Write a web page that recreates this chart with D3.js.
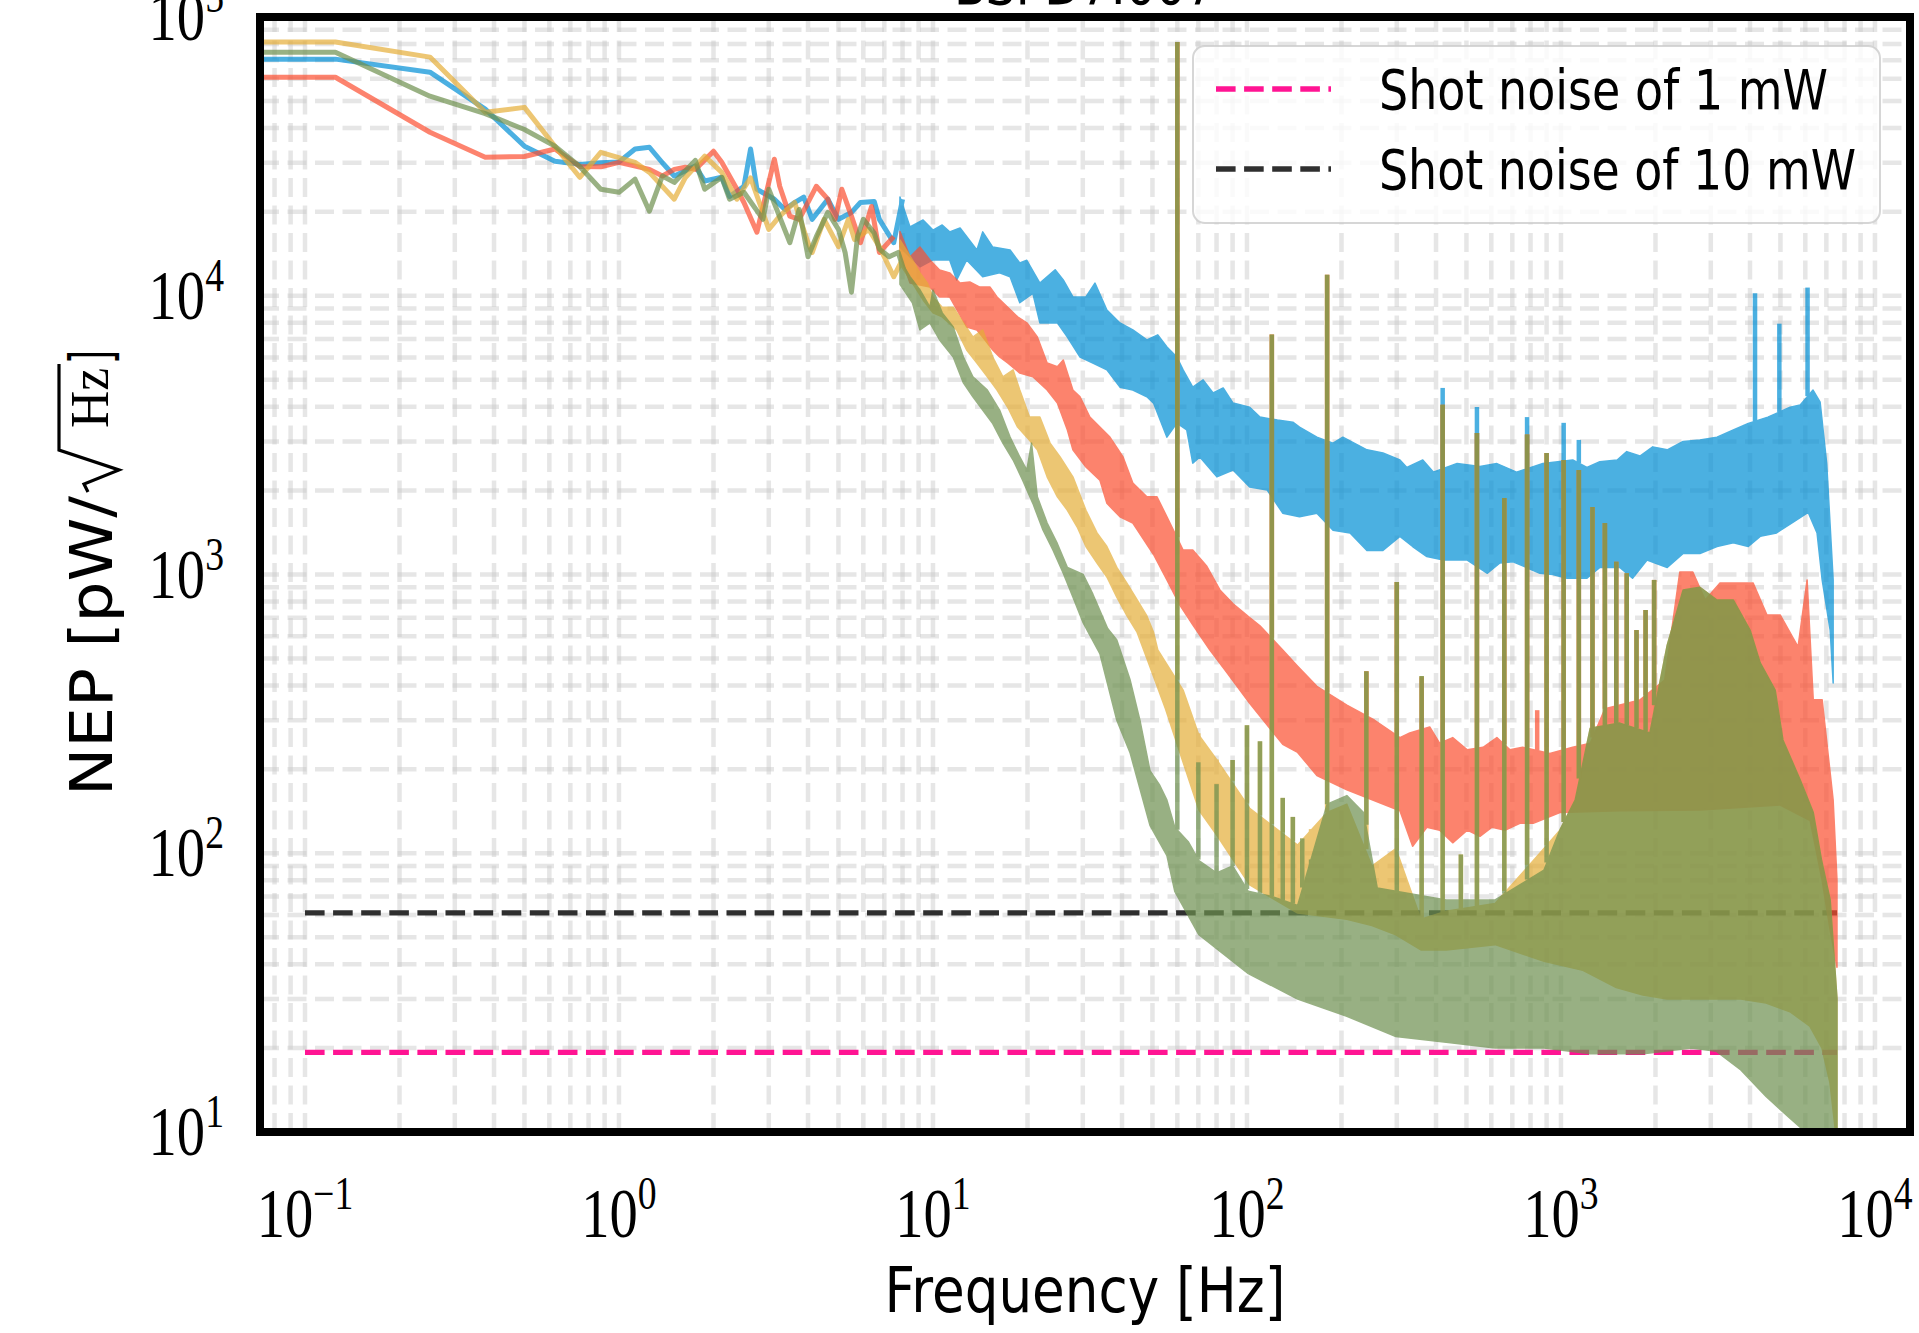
<!DOCTYPE html>
<html>
<head>
<meta charset="utf-8">
<script src="https://cdn.jsdelivr.net/npm/d3@7"></script>
<style>
  body { margin: 0; background: #fff; }
  svg { display: block; }
</style>
</head>
<body>
<div id="chart"></div>
<script>
// ---- values (frequency in Hz, NEP in pW/sqrt(Hz)) ----

// low-frequency part, drawn as a line
var blueLineF = [0.072, 0.125, 0.25, 0.375, 0.5, 0.625, 0.75, 0.875, 1.0, 1.125, 1.25, 1.375, 1.5, 1.75, 1.875, 2.125, 2.25, 2.5, 2.625, 2.75, 3.125, 3.375, 3.625, 3.875, 4.125, 4.625, 5.0, 5.5, 5.875, 6.5, 6.75, 7.5, 8.0]
var blueLineV = [70600, 70600, 63400, 46700, 34400, 30400, 29600, 30000, 30200, 33600, 34100, 30000, 26900, 29200, 25800, 26600, 22700, 24700, 33600, 24100, 22200, 20400, 21600, 22600, 18800, 22200, 18800, 19900, 21600, 21800, 18800, 15500, 22200]

var redLineF = [0.072, 0.125, 0.25, 0.375, 0.5, 0.625, 0.75, 0.875, 1.0, 1.25, 1.375, 1.5, 1.625, 1.75, 2.0, 2.125, 2.375, 2.5, 2.75, 3.125, 3.25, 3.5, 3.75, 4.25, 4.625, 4.875, 5.125, 5.5, 5.875, 6.375, 6.75, 7.5]
var redLineV = [60800, 60800, 38600, 31400, 31600, 33600, 29100, 29000, 30100, 28400, 26900, 28400, 28900, 28400, 33000, 30100, 24100, 21600, 16900, 30900, 24700, 19300, 18800, 24700, 22200, 18800, 24100, 19300, 15500, 20900, 14300, 16300]

var yellowLineF = [0.072, 0.125, 0.25, 0.375, 0.5, 0.625, 0.75, 0.875, 1.125, 1.25, 1.5, 1.625, 1.875, 2.125, 2.375, 2.625, 3.0, 3.25, 3.625, 4.0, 4.125, 4.5, 5.0, 5.375, 5.625, 6.25, 6.75, 7.5, 8.0]
var yellowLineV = [81300, 81300, 71800, 45500, 47400, 34400, 26600, 32700, 30100, 27700, 22200, 26500, 31700, 27700, 22200, 26500, 17300, 19300, 21600, 15500, 14300, 18800, 15000, 18800, 15900, 17300, 15000, 11700, 13500]

var greenLineF = [0.072, 0.125, 0.25, 0.375, 0.5, 0.625, 0.75, 0.875, 1.0, 1.125, 1.25, 1.375, 1.5, 1.75, 1.875, 2.125, 2.25, 2.5, 2.875, 3.0, 3.5, 3.75, 4.0, 4.25, 4.625, 5.0, 5.25, 5.5, 5.75, 6.0, 6.5, 6.75, 7.25, 7.75, 8.125]
var greenLineV = [74800, 74800, 52000, 45000, 39500, 34400, 29100, 24100, 23500, 26200, 20100, 26900, 25500, 30600, 24100, 26600, 22200, 23500, 18800, 24100, 15500, 20400, 13800, 16300, 19900, 17300, 14300, 10300, 16300, 18800, 16800, 14700, 13800, 14300, 12100]

// dense noisy part, drawn as a band: upper edge and lower edge
var blueHiF = [7.85, 8.45, 9.3, 10.0, 10.7, 11.3, 12.2, 13.8, 14.4, 15.5, 17.6, 18.9, 19.9, 21.9, 24.5, 26.0, 27.9, 30.7, 32.8, 35.8, 39.4, 43.3, 48.0, 52.0, 55.6, 59.8, 62.6, 67.2, 72.5, 78.0, 84.0, 90.3, 102, 110, 125, 140, 147, 167, 188, 202, 241, 271, 307, 323, 363, 392, 467, 552, 625, 722, 876, 1090, 1210, 1330, 1510, 1620, 1785, 1960, 2180, 2450, 2770, 3140, 3540, 3950, 4560, 5370, 5780, 6350, 6690, 7020, 7360]
var blueHiV = [22600, 17650, 18700, 17200, 17950, 16950, 17500, 14600, 16950, 14950, 14600, 13100, 13400, 11100, 12400, 11400, 9900, 9900, 11100, 8890, 7990, 7540, 6940, 7240, 6550, 6030, 5420, 4700, 4990, 4480, 4670, 4120, 3980, 3670, 3580, 3520, 3380, 3110, 2960, 3110, 2800, 2730, 2575, 2420, 2575, 2330, 2500, 2440, 2500, 2330, 2500, 2575, 2420, 2540, 2575, 2760, 2660, 2870, 2800, 3000, 3040, 3110, 3300, 3480, 3670, 3980, 4060, 4590, 4150, 2500, 956]
var blueLoF = [7.85, 8.45, 9.09, 10.0, 11.3, 11.9, 12.8, 14.4, 16.3, 17.6, 18.9, 20.8, 21.9, 24.9, 26.8, 29.4, 32.3, 35.8, 39.4, 43.3, 48.0, 50.4, 55.6, 59.8, 64.3, 67.2, 70.8, 80.2, 90.3, 102, 116, 130, 147, 167, 188, 213, 241, 271, 307, 337, 374, 422, 503, 583, 639, 704, 776, 857, 941, 1045, 1210, 1330, 1540, 1690, 1880, 2180, 2450, 2770, 3140, 3540, 3950, 4310, 4860, 5490, 6130, 6540, 6790, 7200, 7360]
var blueLoV = [14950, 13780, 12700, 13440, 13440, 11390, 13440, 11700, 12080, 11700, 9440, 10200, 7990, 7990, 7110, 6030, 5740, 5420, 4700, 4590, 4340, 4120, 3110, 3490, 3300, 2510, 2640, 2240, 2370, 2060, 2010, 1660, 1610, 1660, 1440, 1410, 1220, 1220, 1370, 1260, 1160, 1127, 1127, 1010, 1100, 1110, 1060, 1010, 1000, 970, 970, 1060, 1060, 970, 1127, 1060, 1190, 1190, 1260, 1300, 1260, 1370, 1410, 1540, 1670, 1410, 956, 632, 408]

var redHiF = [7.85, 8.45, 9.09, 9.78, 10.5, 11.3, 12.2, 13.1, 14.1, 15.2, 16.0, 17.3, 18.6, 19.9, 21.5, 23.1, 24.9, 26.0, 27.9, 29.4, 31.6, 34.0, 36.6, 40.3, 43.3, 48.0, 51.7, 55.6, 62.6, 67.2, 74.5, 82.0, 90.3, 102, 110, 130, 145, 167, 208, 255, 307, 330, 382, 411, 452, 503, 565, 625, 688, 755, 922, 1090, 1240, 1380, 1785, 2140, 2390, 2630, 2880, 3210, 4090, 4530, 4990, 5690, 6080, 6360, 6790, 7360, 7570]
var redHiV = [17000, 13780, 14950, 13440, 12370, 12080, 11100, 11200, 10740, 10740, 9900, 9100, 8400, 8000, 7110, 5740, 5560, 5880, 4590, 4340, 3670, 3380, 3110, 2640, 2130, 1900, 1900, 1610, 1224, 1224, 1070, 880, 785, 700, 655, 536, 469, 397, 340, 300, 260, 270, 284, 248, 260, 235, 240, 260, 235, 240, 228, 240, 248, 330, 355, 418, 1020, 1020, 810, 933, 933, 716, 716, 550, 956, 355, 355, 155, 80]
var redLoF = [7.85, 8.45, 9.78, 10.5, 11.3, 12.8, 13.8, 14.4, 15.5, 16.3, 17.3, 18.9, 20.8, 23.1, 24.9, 26.8, 27.9, 30.7, 34.0, 35.8, 39.4, 43.3, 50.4, 55.6, 61.2, 67.2, 76.2, 86.3, 102, 130, 145, 167, 208, 307, 337, 374, 411, 452, 503, 552, 603, 665, 740, 816, 992, 1540, 2770, 4990, 6220, 6790, 7200, 7570]
var redLoV = [14000, 11100, 10740, 9900, 9900, 7730, 7540, 7110, 6390, 6030, 5740, 5280, 5120, 4590, 4120, 3300, 2800, 2430, 2180, 1800, 1610, 1530, 1180, 956, 775, 660, 536, 445, 345, 246, 230, 190, 169, 142, 106, 124, 121, 109, 121, 115, 124, 121, 128, 128, 140, 142, 143, 149, 131, 80, 53, 39]

var yellowHiF = [7.85, 8.6, 9.09, 9.6, 10.0, 10.7, 11.6, 12.5, 13.4, 14.4, 15.5, 16.7, 18.0, 18.9, 20.3, 21.9, 23.6, 25.4, 27.9, 30.7, 33.3, 35.8, 38.5, 41.5, 44.7, 48.0, 50.4, 52.0, 62.6, 70.3, 80.2, 102, 145, 180, 208, 250, 298, 358, 431, 617, 883, 992, 1110, 1240, 1540, 1920, 2180, 2450, 2770, 3140, 3540, 4000, 4310, 4810, 5090, 5780, 6360, 6750, 7200, 7570]
var yellowHiV = [15850, 13440, 12080, 11100, 9900, 9100, 9100, 7990, 7110, 7540, 6030, 5120, 5420, 4590, 3670, 3670, 2960, 2640, 2240, 1700, 1410, 1260, 1060, 930, 810, 710, 620, 536, 385, 265, 216, 145, 107, 140, 150, 90, 104, 58, 62, 66, 104, 121, 155, 281, 293, 270, 558, 880, 900, 810, 810, 632, 482, 385, 255, 183, 140, 95, 68, 30]
var yellowLoF = [7.85, 8.6, 9.3, 10.0, 10.7, 11.9, 12.8, 13.8, 14.9, 16.0, 17.3, 18.6, 19.9, 21.5, 23.1, 24.9, 26.8, 28.8, 30.7, 33.3, 35.8, 38.5, 41.5, 44.7, 48.0, 55, 62.6, 70.3, 80.2, 102, 145, 208, 250, 298, 358, 431, 617, 883, 1175, 1500, 1824, 2180, 2612, 3120, 3740, 4500, 5360, 6200, 6780, 7190, 7570]
var yellowLoV = [13000, 11100, 9660, 8680, 8400, 7540, 6390, 5740, 5120, 4590, 3980, 3380, 3110, 2800, 2240, 1900, 1700, 1480, 1260, 1100, 980, 830, 710, 620, 500, 330, 212, 143, 116, 77, 61, 58, 55, 51, 45, 45, 47, 41, 38, 33, 31, 30, 30, 30, 30, 29, 27, 24, 20, 15, 9]

var greenHiF = [7.85, 8.45, 9.09, 9.78, 10.0, 10.7, 11.6, 12.5, 13.4, 14.9, 16.3, 17.6, 18.9, 19.9, 20.6, 21.5, 23.1, 24.9, 26.8, 30.1, 32.3, 36.0, 38.5, 42.4, 45.6, 49.1, 52.8, 55.6, 58.9, 65, 70.3, 80, 90, 101, 120, 145, 160, 180, 208, 235, 260, 298, 431, 617, 883, 992, 1110, 1240, 1540, 1920, 2180, 2450, 2770, 3140, 3540, 4000, 4310, 4810, 5090, 5780, 6360, 6750, 7200, 7570]
var greenHiV = [13440, 11700, 10490, 9100, 10490, 8680, 7730, 6030, 5120, 4590, 3890, 3110, 2640, 2370, 2960, 1900, 1530, 1290, 1060, 1000, 850, 640, 582, 420, 300, 198, 175, 155, 124, 110, 94, 85, 90, 73, 70, 65, 95, 150, 161, 140, 75, 73, 68, 68, 87, 121, 155, 281, 293, 270, 558, 880, 900, 810, 810, 632, 482, 385, 255, 183, 140, 95, 68, 30]
var greenLoF = [7.85, 8.6, 9.09, 9.78, 10.5, 11.6, 12.5, 13.4, 14.4, 15.5, 16.7, 18.0, 19.3, 20.8, 22.4, 24.1, 26.0, 27.9, 30.1, 34.0, 38.5, 42.4, 49.1, 55.6, 58.9, 70.3, 101, 145, 208, 298, 431, 617, 883, 1240, 1830, 2610, 3120, 3740, 4500, 5360, 6200, 7570]
var greenLoV = [11000, 9440, 7540, 7990, 6940, 6030, 4870, 4340, 3890, 3480, 2960, 2575, 2180, 1800, 1444, 1224, 1010, 830, 670, 520, 300, 230, 126, 98, 73, 51, 37, 30, 26, 22, 21, 20, 20, 19.1, 19.1, 20, 19.5, 16.7, 13.4, 11.2, 9.7, 9]

// narrow lines: frequency and peak value
var harmonicF    = [60, 120, 180, 300, 420, 540, 660, 780, 900, 1020, 1140, 1260, 1380, 1500, 1620, 1740, 1860, 1980]
var harmonicPeak = [81300, 7260, 11900, 940, 4060, 3220, 1880, 3180, 2730, 2575, 2370, 1745, 1530, 1110, 1010, 632, 746, 956]
var minorF    = [70, 80, 90, 100, 110, 130, 140, 150, 160, 240, 360, 480]
var minorPeak = [212, 177, 216, 288, 252, 158, 135, 113, 90, 450, 432, 99]
var redSpikeF    = [240, 360, 840]
var redSpikePeak = [450, 428, 326]
var blueSpikeF    = [420, 540, 780, 1020, 1140, 4150, 4960, 6100]
var blueSpikePeak = [4670, 3990, 3670, 3500, 3040, 10200, 7940, 10700]

// shot noise levels
var shotF = [0.1, 7570]
var shotLabels = ["Shot noise of 1 mW", "Shot noise of 10 mW"]
var shotValues = [19.3, 61.1]
var shotColors = ["#ff1493", "#2f2f2f"]

var xTickVals = [0.1, 1, 10, 100, 1000, 10000]
var xTickExp = ["\u22121", "0", "1", "2", "3", "4"]
var yTickVals = [10, 100, 1000, 10000, 100000]
var yTickExp = ["1", "2", "3", "4", "5"]

// ---- chart ----
var width = 1919
var height = 1333
var plot = { left: 260, right: 1910, top: 17, bottom: 1132 }

var svg = d3.select("#chart")
  .append("svg")
  .attr("width", width)
  .attr("height", height)

var x = d3.scaleLog().domain([0.0719, 12930]).range([plot.left, plot.right])
var y = d3.scaleLog().domain([10, 1e5]).range([plot.bottom, plot.top])

svg.append("defs").append("clipPath").attr("id", "plotclip")
  .append("rect")
  .attr("x", plot.left).attr("y", plot.top)
  .attr("width", plot.right - plot.left)
  .attr("height", plot.bottom - plot.top)

// dashed major + minor grid
var xGrid = [], yGrid = []
for (var k = -2; k <= 4; k++) {
  for (var m = 1; m <= 9; m++) {
    var gv = m * Math.pow(10, k)
    if (gv > x.domain()[0] && gv < x.domain()[1]) xGrid.push(gv)
    if (k >= 1 && gv >= 10 && gv < 1e5) yGrid.push(gv)
  }
}
var grid = svg.append("g")
  .attr("stroke", "#c8c8c8")
  .attr("stroke-opacity", 0.45)
  .attr("stroke-width", 4.5)
  .attr("stroke-dasharray", "19,8.5")

grid.selectAll(".vg").data(xGrid).enter().append("line")
  .attr("x1", d => x(d)).attr("x2", d => x(d))
  .attr("y1", plot.bottom).attr("y2", plot.top)

grid.selectAll(".hg").data(yGrid).enter().append("line")
  .attr("x1", plot.left).attr("x2", plot.right)
  .attr("y1", d => y(d)).attr("y2", d => y(d))

var plotArea = svg.append("g").attr("clip-path", "url(#plotclip)")

// shot noise lines (under the data)
shotValues.forEach(function(v, i) {
  plotArea.append("line")
    .attr("x1", x(shotF[0])).attr("x2", x(shotF[1]))
    .attr("y1", y(v)).attr("y2", y(v))
    .attr("stroke", shotColors[i])
    .attr("stroke-width", 5.3)
    .attr("stroke-dasharray", "19.6,8.5")
})

var series = [
  { color: "#008fd5", lf: blueLineF, lv: blueLineV,
    hf: blueHiF, hv: blueHiV, of: blueLoF, ov: blueLoV,
    spikes: [[blueSpikeF, blueSpikePeak]] },
  { color: "#fc4f30", lf: redLineF, lv: redLineV,
    hf: redHiF, hv: redHiV, of: redLoF, ov: redLoV,
    spikes: [[harmonicF, harmonicPeak], [redSpikeF, redSpikePeak]] },
  { color: "#e5ae38", lf: yellowLineF, lv: yellowLineV,
    hf: yellowHiF, hv: yellowHiV, of: yellowLoF, ov: yellowLoV,
    spikes: [[harmonicF, harmonicPeak], [minorF, minorPeak]] },
  { color: "#6d904f", lf: greenLineF, lv: greenLineV,
    hf: greenHiF, hv: greenHiV, of: greenLoF, ov: greenLoV,
    spikes: [[harmonicF, harmonicPeak], [minorF, minorPeak]] }
]

var line = d3.line()

series.forEach(function(s) {
  // one group per series, so the series does not darken where it overlaps itself
  var g = plotArea.append("g").attr("opacity", 0.7)

  var pts = s.lf.map((f, i) => [x(f), y(s.lv[i])])
  g.append("path")
    .attr("d", line(pts))
    .attr("fill", "none")
    .attr("stroke", s.color)
    .attr("stroke-width", 5)
    .attr("stroke-linejoin", "round")

  var upper = s.hf.map((f, i) => [x(f), y(s.hv[i])])
  var lower = s.of.map((f, i) => [x(f), y(s.ov[i])]).reverse()
  g.append("path")
    .attr("d", line(upper.concat(lower)) + "Z")
    .attr("fill", s.color)
    .attr("stroke", s.color)
    .attr("stroke-width", 1.5)
    .attr("stroke-linejoin", "round")

  // the upper edge of the band is the foot of each narrow line
  var hiAt = d3.scaleLog().domain(s.hf).range(s.hv).clamp(true)
  s.spikes.forEach(function(sp) {
    g.selectAll(null).data(sp[0]).enter().append("line")
      .attr("x1", d => x(d)).attr("x2", d => x(d))
      .attr("y1", d => y(hiAt(d)))
      .attr("y2", (d, i) => y(sp[1][i]))
      .attr("stroke", s.color)
      .attr("stroke-width", 4.5)
  })
})

// frame
svg.append("rect")
  .attr("x", plot.left).attr("y", plot.top)
  .attr("width", plot.right - plot.left)
  .attr("height", plot.bottom - plot.top)
  .attr("fill", "none")
  .attr("stroke", "#000")
  .attr("stroke-width", 8)

// legend
var legend = svg.append("g")
legend.append("rect")
  .attr("x", 1193).attr("y", 46).attr("width", 687).attr("height", 177)
  .attr("rx", 12).attr("ry", 12)
  .attr("fill", "#fff").attr("fill-opacity", 0.8)
  .attr("stroke", "#cccccc").attr("stroke-opacity", 0.8).attr("stroke-width", 2)

shotLabels.forEach(function(label, i) {
  var ly = 89 + i * 80
  legend.append("line")
    .attr("x1", 1216).attr("x2", 1331).attr("y1", ly).attr("y2", ly)
    .attr("stroke", shotColors[i])
    .attr("stroke-width", 5.3)
    .attr("stroke-dasharray", "19.6,8.5")
  legend.append("text")
    .attr("x", 1379).attr("y", ly + 20)
    .attr("textLength", i == 0 ? 449 : 477)
    .attr("lengthAdjust", "spacingAndGlyphs")
    .style("font-family", "DejaVu Sans")
    .style("font-size", "55px")
    .text(label)
})

// tick labels
var serif = "'Liberation Serif', 'DejaVu Serif', serif"
svg.selectAll(".xtl").data(xTickVals).enter().append("text")
  .attr("transform", d => "translate(" + x(d) + ",1237) scale(0.82,1)")
  .attr("text-anchor", "middle")
  .style("font-family", serif)
  .style("font-size", "69px")
  .each(function(d, i) {
    var t = d3.select(this)
    t.append("tspan").text("10")
    t.append("tspan").attr("dy", -28).style("font-size", "46px").text(xTickExp[i])
  })

svg.selectAll(".ytl").data(yTickVals).enter().append("text")
  .attr("transform", d => "translate(224," + (y(d) + 23) + ") scale(0.82,1)")
  .attr("text-anchor", "end")
  .style("font-family", serif)
  .style("font-size", "69px")
  .each(function(d, i) {
    var t = d3.select(this)
    t.append("tspan").text("10")
    t.append("tspan").attr("dy", -28).style("font-size", "46px").text(yTickExp[i])
  })

// axis labels
svg.append("text")
  .attr("x", (plot.left + plot.right) / 2).attr("y", 1312)
  .attr("text-anchor", "middle")
  .attr("textLength", 401)
  .attr("lengthAdjust", "spacingAndGlyphs")
  .style("font-family", "DejaVu Sans")
  .style("font-size", "62px")
  .text("Frequency [Hz]")

var ylab = svg.append("g").attr("transform", "translate(112,796) rotate(-90)")
ylab.append("text")
  .attr("x", 0).attr("y", 0)
  .attr("textLength", 300)
  .attr("lengthAdjust", "spacingAndGlyphs")
  .style("font-family", "DejaVu Sans")
  .style("font-size", "58px")
  .text("NEP [pW/")
ylab.append("path")
  .attr("d", "M304,-24 L312,-28 L326,7 L346,-53 L432,-53")
  .attr("fill", "none")
  .attr("stroke", "#000")
  .attr("stroke-width", 3.2)
ylab.append("text")
  .attr("x", 368).attr("y", -4)
  .attr("textLength", 60)
  .attr("lengthAdjust", "spacingAndGlyphs")
  .style("font-family", serif)
  .style("font-size", "54px")
  .text("Hz")
ylab.append("text")
  .attr("x", 432).attr("y", 0)
  .attr("textLength", 14)
  .attr("lengthAdjust", "spacingAndGlyphs")
  .style("font-family", "DejaVu Sans")
  .style("font-size", "58px")
  .text("]")

// title, mostly above the top edge
svg.append("text")
  .attr("x", (plot.left + plot.right) / 2).attr("y", 4)
  .attr("text-anchor", "middle")
  .attr("textLength", 262)
  .attr("lengthAdjust", "spacingAndGlyphs")
  .style("font-family", "DejaVu Sans")
  .style("font-size", "55px")
  .text("BSPD7.007")
</script>
</body>
</html>
